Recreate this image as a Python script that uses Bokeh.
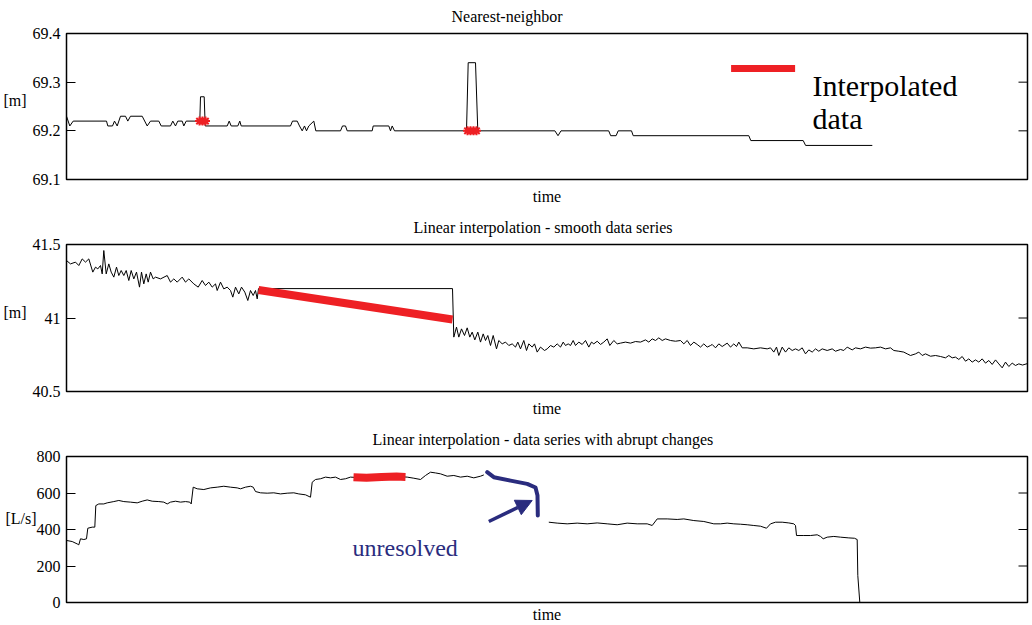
from bokeh.plotting import figure
from bokeh.models import Range1d, FixedTicker, Label, Arrow, NormalHead, LinearAxis
from bokeh.layouts import column
from bokeh.embed import file_html
from bokeh.resources import INLINE

FONT = "Liberation Serif"
RED = "#EE2024"
NAVY = "#2A2C7E"

# ---------------- Panel 1: Nearest-neighbor ----------------
p1_t = [0, 3.3, 6.7, 40, 41.3, 46, 48, 50.7, 54, 59, 61.3, 64, 75.7, 80.7, 84, 92.3, 94.7,
        104, 106.3, 109, 111.3, 115.7, 117.3, 119.7, 133.3, 134, 137.7, 138.7, 160.7, 162.7,
        164.7, 171.3, 173.3, 174.7, 224, 226, 230.7, 233, 235.7, 238, 240, 242.3, 247.3, 249.3,
        274, 276, 279, 280.7, 305.7, 306.7, 322.3, 324, 325.7, 328, 400, 401.7, 409, 411.3,
        488.4, 491.5, 494.5, 542.2, 544.2, 549.6, 551.7, 565, 566.7, 682.3, 684.3, 736.7,
        739.1, 805.8]
p1_v = [69.23, 69.21, 69.22, 69.22, 69.21, 69.21, 69.22, 69.21, 69.23, 69.23, 69.22, 69.23,
        69.23, 69.21, 69.22, 69.22, 69.21, 69.21, 69.22, 69.21, 69.22, 69.22, 69.21, 69.22,
        69.22, 69.27, 69.27, 69.21, 69.21, 69.22, 69.21, 69.21, 69.22, 69.21, 69.21, 69.22,
        69.22, 69.21, 69.20, 69.21, 69.20, 69.21, 69.22, 69.20, 69.20, 69.21, 69.21, 69.20,
        69.20, 69.21, 69.21, 69.20, 69.21, 69.20, 69.20, 69.34, 69.34, 69.20, 69.20, 69.19,
        69.20, 69.20, 69.19, 69.19, 69.20, 69.20, 69.19, 69.19, 69.18, 69.18, 69.17, 69.17]
p1_interp_t = [133, 136, 139, 401, 404, 407, 410]
p1_interp_v = [69.22, 69.22, 69.22, 69.20, 69.20, 69.20, 69.20]
legend_bar_t = [664.6, 728.6]
legend_bar_v = [69.328, 69.328]
p1_ticks = [69.1, 69.2, 69.3, 69.4]
p1_tick_labels = ["69.1", "69.2", "69.3", "69.4"]
p1_unit_at = 69.262

# ---------------- Panel 2: Linear interpolation - smooth ----------------
p2_t = [0, 4, 9, 12.3, 15.7, 19, 22.3, 26.3, 29, 31.3, 34, 35.7, 37.3, 39.7, 42.3, 44.7, 47.3,
        50, 52.3, 54.7, 57.3, 59.7, 62.3, 64.7, 67.3, 70, 73, 75, 77.3, 79.7, 81.7, 84, 86.7,
        89, 94, 100.7, 104, 107.3, 110.7, 115.7, 119, 122.3, 127.3, 131.7, 135.7, 139, 142.3,
        145.7, 149, 150.7, 154, 157.3, 160.7, 164, 166.3, 169, 172.3, 175, 178.3, 181.3, 184,
        186.7, 189, 190.7, 192, 386,
        387.3, 390, 392.3, 395, 398, 400.7, 403.3, 405.7, 408.3, 411.3, 414, 416.7, 419, 421.3,
        424, 426.7, 430, 432.3, 435.7, 439, 442.3, 445.7, 449, 451.3, 454, 457.3, 460, 462.3,
        465.7, 468, 470.7, 474, 478, 480.7, 484, 487.3, 490.7, 494, 496.7, 499, 501.7, 504,
        506.7, 509, 512.3, 515.7, 519, 522.3, 525, 527.3, 530.7, 534, 537.3, 540.7, 543.3,
        547.3, 550.7, 554, 559, 564, 569, 574, 579, 582.3, 585.7, 589, 592.3, 595.7, 599, 604,
        609, 614, 617.3, 620.7, 624, 627.3, 630.7, 634, 637.3, 640.7, 644,
        645.7, 649, 652.3, 655.7, 660.7, 664, 667.3, 670, 672.3, 675.7, 680.7, 687.3, 694,
        700.7, 704, 707.3, 710, 712.3, 715.7, 719, 722.3, 725.7, 729, 732.3, 735.7, 739,
        742.3, 745.7, 749, 752.3, 755.7, 760.7, 765.7, 769, 774, 777.3, 780.7, 785.7, 789,
        794, 799, 804, 809, 814, 819, 824, 827.3, 832.3, 837.3, 840.7, 844, 849, 852.3, 855.7,
        859, 864, 869, 874, 879, 882.3, 885.7, 889, 892.3, 895.7, 899, 902.3, 905.7, 909,
        912.3, 915.7, 919, 922.3, 925.7, 929, 932.3, 935.7, 939, 942.3, 945.7, 949, 952.3,
        956, 961]
p2_v = [41.391, 41.368, 41.380, 41.357, 41.402, 41.380, 41.402, 41.312, 41.346, 41.334, 41.357,
        41.300, 41.459, 41.300, 41.368, 41.312, 41.278, 41.346, 41.289, 41.323, 41.289, 41.323,
        41.255, 41.323, 41.266, 41.312, 41.210, 41.312, 41.232, 41.300, 41.244, 41.312, 41.266,
        41.278, 41.266, 41.289, 41.244, 41.266, 41.244, 41.278, 41.244, 41.266, 41.232, 41.210,
        41.255, 41.221, 41.244, 41.210, 41.232, 41.187, 41.244, 41.198, 41.210, 41.187, 41.142,
        41.210, 41.164, 41.210, 41.176, 41.119, 41.187, 41.153, 41.187, 41.130, 41.200, 41.200,
        40.870, 40.938, 40.870, 40.926, 40.881, 40.933, 40.870, 40.904, 40.851, 40.904, 40.836,
        40.892, 40.847, 40.881, 40.813, 40.881, 40.790, 40.847, 40.824, 40.836, 40.813, 40.824,
        40.802, 40.836, 40.790, 40.847, 40.779, 40.824, 40.802, 40.824, 40.768, 40.802, 40.779,
        40.790, 40.813, 40.802, 40.824, 40.802, 40.836, 40.813, 40.824, 40.813, 40.847, 40.813,
        40.836, 40.820, 40.847, 40.802, 40.836, 40.824, 40.842, 40.820, 40.836, 40.858, 40.813,
        40.847, 40.824, 40.829, 40.836, 40.829, 40.840, 40.836, 40.851, 40.836, 40.858, 40.847,
        40.865, 40.847, 40.858, 40.847, 40.842, 40.847, 40.824, 40.847, 40.813, 40.836, 40.820,
        40.802, 40.824, 40.802, 40.813,
        40.820, 40.797, 40.824, 40.806, 40.829, 40.802, 40.824, 40.806, 40.836, 40.797, 40.797,
        40.790, 40.797, 40.790, 40.797, 40.768, 40.802, 40.745, 40.802, 40.768, 40.797, 40.779,
        40.790, 40.779, 40.797, 40.756, 40.783, 40.768, 40.790, 40.774, 40.790, 40.779, 40.790,
        40.774, 40.786, 40.779, 40.802, 40.783, 40.797, 40.790, 40.802, 40.795, 40.797, 40.802,
        40.790, 40.797, 40.779, 40.774, 40.768, 40.756, 40.745, 40.756, 40.768, 40.745, 40.756,
        40.740, 40.745, 40.738, 40.729, 40.745, 40.729, 40.734, 40.718, 40.738, 40.706, 40.722,
        40.700, 40.715, 40.700, 40.722, 40.693, 40.711, 40.684, 40.715, 40.688, 40.661, 40.700,
        40.670, 40.693, 40.677, 40.688, 40.680, 40.690]
p2_interp_t = [192, 386]
p2_interp_v = [41.19, 40.99]
p2_ticks = [40.5, 41, 41.5]
p2_tick_labels = ["40.5", "41", "41.5"]
p2_unit_at = 41.04

# ---------------- Panel 3: abrupt changes ----------------
p3a_t = [0, 5.7, 10.7, 12.3, 14, 17.3, 20, 21.3, 25.7, 28.3, 29.3, 32.3, 37.3, 40.7, 47.3, 52.3,
         57.3, 64, 70.7, 75.7, 80.7, 85.7, 92.3, 97.3, 100.7, 104, 109, 114, 119, 123.3, 124.7,
         126.7, 130.7, 137.3, 144, 150.7, 157.3, 164, 170.7, 174, 179, 184, 186.7, 189, 194,
         200.7, 207.3, 214, 220.7, 227.3, 232.3, 239, 244, 245.7, 249, 254, 259, 264, 269, 274,
         279, 284, 290, 300, 310, 320, 330, 340.7, 347.3, 354, 359, 364, 369, 374, 380.7,
         387.3, 394, 400.7, 407.3, 414, 417.3]
p3a_v = [340, 334, 321, 316, 349, 345, 349, 407, 413, 413, 531, 540, 540, 546, 553, 559, 553,
         550, 546, 555, 562, 555, 553, 550, 540, 550, 555, 550, 553, 550, 540, 632, 623, 619,
         628, 632, 637, 632, 628, 623, 632, 637, 632, 608, 601, 599, 601, 595, 599, 601, 595,
         590, 577, 659, 674, 678, 687, 683, 687, 674, 678, 687, 685, 683, 688, 686, 690, 687,
         681, 674, 696, 714, 710, 705, 692, 696, 687, 692, 683, 692, 699]
p3b_t = [482.3, 490.7, 500.7, 510.7, 520.7, 530.7, 540.7, 550.7, 560.7, 570.7, 580.7, 585.7,
         590.7, 600.7, 610.7, 617.3, 627.3, 637.3, 647.3, 654, 660.7, 667.3, 674, 680.7, 687.3,
         694, 700, 704, 709, 715.7, 722.3, 727.3, 729, 730, 737.3, 744, 750.7, 754, 756.7,
         760.7, 767.3, 774, 782.3, 788, 790.7, 791.3, 793.3, 802.3]
p3b_v = [440, 435, 431, 435, 431, 436, 431, 426, 435, 431, 431, 422, 458, 458, 455, 458, 449,
         444, 431, 431, 435, 431, 429, 426, 422, 418, 407, 431, 440, 440, 436, 431, 422, 367,
         367, 367, 371, 362, 349, 358, 362, 358, 354, 352, 345, 148, 0, 0]
p3_interp_t = [287, 300, 315, 330, 339]
p3_interp_v = [686, 683, 688, 690, 688]
bracket_t = [420.7, 427.3, 444, 460.7, 469, 471, 471.3]
bracket_v = [714, 686.5, 668, 650, 630, 586, 477]
arrow_t = [422.3, 465.7]
arrow_v = [444, 559]
p3_ticks = [0, 200, 400, 600, 800]
p3_tick_labels = ["0", "200", "400", "600", "800"]
p3_unit_at = 460

X_MAX = 961
TICK_LEN = 9   # inward tick length (px == data units on x, since 1 unit ~ 1 px)


def make_fig(height, btop, bbottom, yr, ticks, labels, time_standoff,
             title, title_offset, unit, unit_at, unit_standoff):
    p = figure(width=1032, height=height, output_backend="svg", toolbar_location=None,
               x_range=Range1d(0, X_MAX), y_range=Range1d(*yr),
               min_border_left=66, min_border_right=5, min_border_top=btop,
               min_border_bottom=bbottom, background_fill_color="white",
               border_fill_color="white")
    p.title.text = title
    p.title.align = "left"
    p.title.vertical_align = "top"
    p.title.offset = title_offset
    p.title.standoff = 14
    p.title.text_font = FONT
    p.title.text_font_style = "normal"
    p.title.text_font_size = "16px"
    p.title.text_color = "black"

    p.xgrid.visible = False
    p.ygrid.visible = False
    p.outline_line_color = "black"
    p.outline_line_width = 1.5
    p.outline_line_alpha = 1

    xa = p.xaxis[0]
    xa.ticker = FixedTicker(ticks=[])
    xa.axis_line_color = None
    xa.major_tick_line_color = None
    xa.minor_tick_line_color = None
    xa.axis_label = "time"
    xa.axis_label_text_font = FONT
    xa.axis_label_text_font_style = "normal"
    xa.axis_label_text_font_size = "16px"
    xa.axis_label_text_color = "black"
    xa.axis_label_standoff = time_standoff

    ya = p.yaxis[0]
    ya.ticker = FixedTicker(ticks=ticks)
    ya.major_label_overrides = dict(zip(ticks, labels))
    ya.axis_line_color = None
    ya.major_tick_in = TICK_LEN
    ya.major_tick_out = 0
    ya.major_tick_line_color = "black"
    ya.minor_tick_line_color = None
    ya.major_label_standoff = 6
    ya.axis_label_standoff = 0
    ya.major_label_text_font = FONT
    ya.major_label_text_font_size = "16px"
    ya.major_label_text_color = "black"

    # unit label on the left, placed at its own height beside the tick labels
    ua = LinearAxis(ticker=FixedTicker(ticks=[unit_at]), major_label_overrides={unit_at: unit},
                    axis_line_color=None, major_tick_line_color=None,
                    major_tick_in=0, major_tick_out=0, axis_label_standoff=0,
                    minor_tick_line_color=None, major_label_standoff=unit_standoff,
                    major_label_text_font=FONT, major_label_text_font_size="16px",
                    major_label_text_color="black")
    p.add_layout(ua, "left")

    # mirrored inward ticks on the right edge of the frame
    p.segment(x0=[X_MAX - TICK_LEN] * len(ticks), y0=ticks, x1=[X_MAX] * len(ticks), y1=ticks,
              line_color="black", line_width=1)
    return p


def add_text(p, x, y, text, size, color="black", align="left", baseline="alphabetic"):
    p.add_layout(Label(x=x, y=y, text=text, text_font=FONT, text_font_size=size,
                       text_color=color, text_align=align, text_baseline=baseline))


# Panel 1
p1 = make_fig(210, 33, 31, (69.1, 69.4), p1_ticks, p1_tick_labels, 8,
              "Nearest-neighbor", 385, "[m]", p1_unit_at, 3)
p1.line(p1_t, p1_v, line_color="black", line_width=1)
p1.scatter(p1_interp_t, p1_interp_v, marker="asterisk", size=9, line_color=RED, line_width=2)
p1.line(legend_bar_t, legend_bar_v, line_color=RED, line_width=7)
add_text(p1, 746, 69.294, "Interpolated", "30px")
add_text(p1, 746, 69.2245, "data", "30px")

# Panel 2
p2 = make_fig(212, 34, 31, (40.5, 41.5), p2_ticks, p2_tick_labels, 8,
              "Linear interpolation - smooth data series", 347, "[m]", p2_unit_at, 3)
p2.line(p2_t, p2_v, line_color="black", line_width=1)
p2.line(p2_interp_t, p2_interp_v, line_color=RED, line_width=8)

# Panel 3
p3 = make_fig(203, 34, 23, (0, 800), p3_ticks, p3_tick_labels, 3,
              "Linear interpolation - data series with abrupt changes", 306, "[L/s]",
              p3_unit_at, -3)
p3.line(p3a_t, p3a_v, line_color="black", line_width=1)
p3.line(p3b_t, p3b_v, line_color="black", line_width=1)
p3.line(p3_interp_t, p3_interp_v, line_color=RED, line_width=8)
p3.line(bracket_t, bracket_v, line_color=NAVY, line_width=4, line_cap="round", line_join="round")
p3.add_layout(Arrow(end=NormalHead(size=16, fill_color=NAVY, line_color=NAVY),
                    x_start=arrow_t[0], y_start=arrow_v[0], x_end=arrow_t[1], y_end=arrow_v[1],
                    line_color=NAVY, line_width=3.5))
add_text(p3, 286, 297, "unresolved", "24px", color=NAVY)

layout = column(p1, p2, p3)
open("out.html", "w").write(file_html(layout, INLINE))
